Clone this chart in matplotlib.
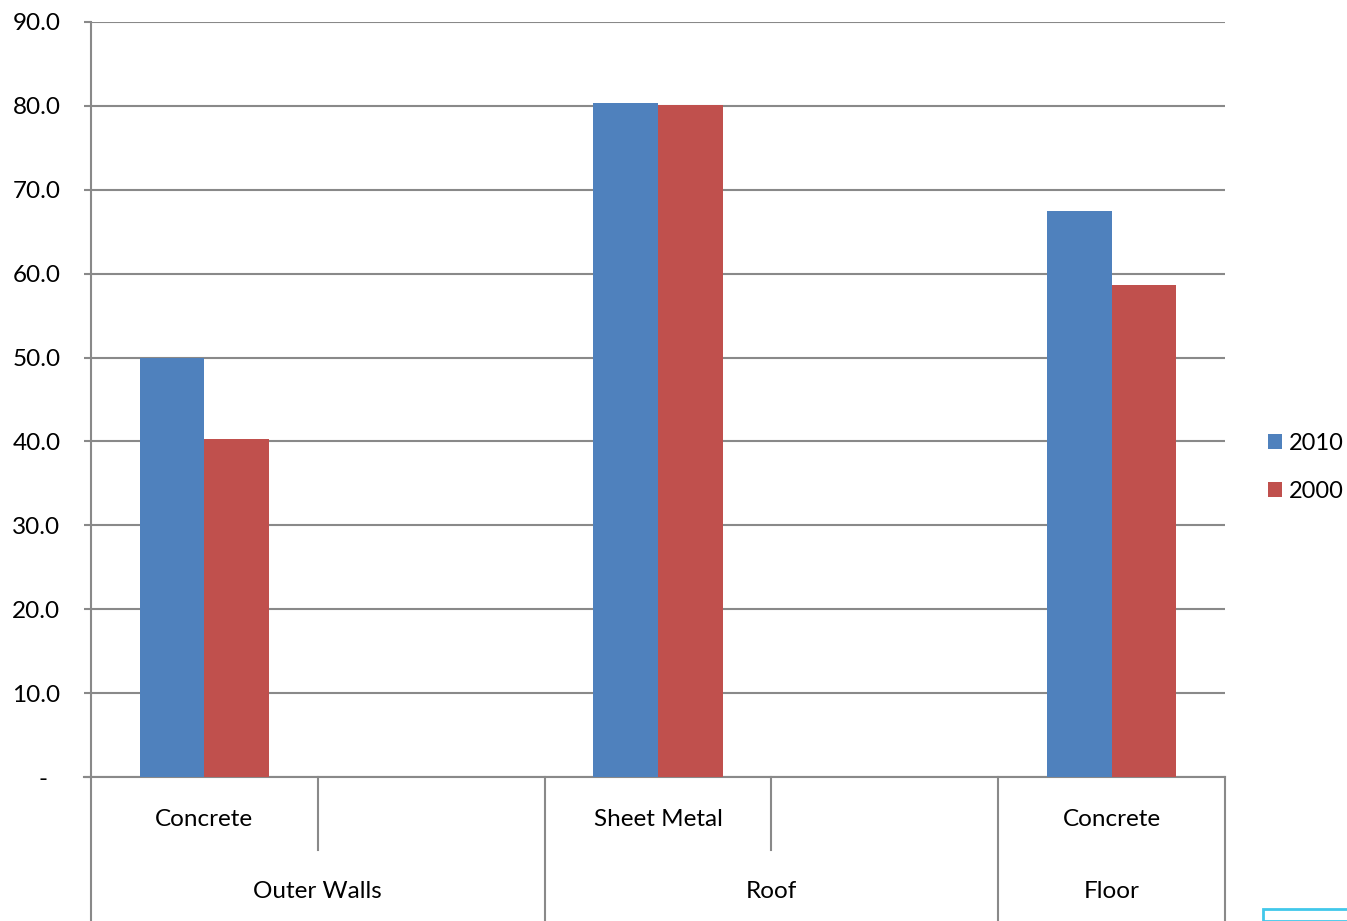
import matplotlib.pyplot as plt
import matplotlib.patches as mpatches
import numpy as np
import matplotlib

# data
subcategories = ['Concrete', '', 'Sheet Metal', '', 'Concrete']
groups = ['Outer Walls', 'Roof', 'Floor']
group_sizes = [2, 2, 1]   # number of sub-slots in each group
series_names = ['2010', '2000']
values_2010 = [50.0, np.nan, 80.3, np.nan, 67.5]
values_2000 = [40.3, np.nan, 80.1, np.nan, 58.6]
yticks = [0, 10, 20, 30, 40, 50, 60, 70, 80, 90]
ytick_labels = ['-  '] + [f'{v:.1f}' for v in yticks[1:]]

blue = '#4F81BD'
red = '#C0504D'
grey = '#898989'
fs = 17.5

matplotlib.rcParams['font.family'] = ['Lato', 'DejaVu Sans']

fig = plt.figure(figsize=(13.47, 9.21), dpi=100)
ax = fig.add_axes([91 / 1347, 1 - 777 / 921, (1225 - 91) / 1347, (777 - 22) / 921])

x = np.arange(len(subcategories))
w = 0.286
ax.bar(x - w / 2, values_2010, w, color=blue, label=series_names[0], zorder=3)
ax.bar(x + w / 2, values_2000, w, color=red, label=series_names[1], zorder=3)

ax.set_xlim(-0.5, len(subcategories) - 0.5)
ax.set_ylim(0, 90)
ax.set_yticks(yticks)
ax.set_yticklabels(ytick_labels, fontsize=fs)
ax.yaxis.grid(True, color=grey, linewidth=1.5, zorder=0)
ax.tick_params(axis='y', length=5, width=1.5, color=grey, pad=17)
ax.set_xticks([])
for s in ['top', 'right']:
    ax.spines[s].set_visible(False)
for s in ['left', 'bottom']:
    ax.spines[s].set_color(grey)
    ax.spines[s].set_linewidth(1.5)

# multi-level category axis drawn below the plot
trans = ax.get_xaxis_transform()
short_y = (777 - 850) / 755
long_y = (777 - 921) / 755
bounds = np.cumsum([0] + group_sizes) - 0.5
for b in np.arange(-0.5, len(subcategories)):
    bottom = long_y if b in bounds else short_y
    ax.plot([b, b], [0, bottom], transform=trans, color=grey, lw=1.5, clip_on=False)
ax.plot([-0.5 - 0.03, -0.5], [0, 0], transform=trans, color=grey, lw=1.5, clip_on=False)

for xi, lab in zip(x, subcategories):
    ax.text(xi, -0.056, lab, transform=trans, ha='center', va='center', fontsize=fs)
for i, g in enumerate(groups):
    ax.text((bounds[i] + bounds[i + 1]) / 2, -0.151, g, transform=trans,
            ha='center', va='center', fontsize=fs)

ax.legend(loc='center left', bbox_to_anchor=(1268 / 1347, 1 - 467.5 / 921),
          bbox_transform=fig.transFigure, frameon=False, fontsize=17,
          handlelength=0.6, handleheight=0.6, handletextpad=0.3,
          labelspacing=1.16, borderaxespad=0, borderpad=0)

# small cyan box in the lower right corner
fig.patches.append(mpatches.Rectangle((1263 / 1347, 0), 0.1, 12 / 921, transform=fig.transFigure,
                                      fill=False, edgecolor='#41C8EA', lw=2))

fig.savefig('out.png', dpi=100)
